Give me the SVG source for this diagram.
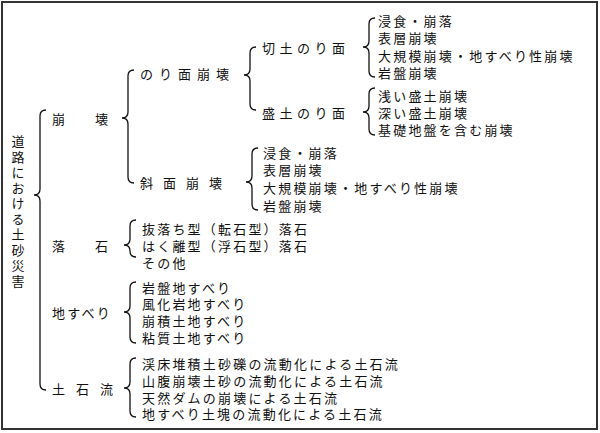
<svg xmlns="http://www.w3.org/2000/svg" width="600" height="433" viewBox="0 0 600 433">
<style>
text{font-family:"Noto Sans CJK JP","Noto Sans CJK SC",sans-serif;font-size:13px;letter-spacing:2.2px;fill:#111;dominant-baseline:central}
.b{fill:none;stroke:#111;stroke-width:1.3}
</style>
<rect x="0" y="0" width="600" height="433" fill="#fff"/>
<rect x="2" y="2" width="595" height="427" fill="none" stroke="#333" stroke-width="2"/>
<g id="connectors">
<path class="b" d="M46,110 Q40,110 40,116 L40,189 Q40,195 34,195 Q40,195 40,201 L40,384 Q40,390 46,390"/>
<path class="b" d="M134,70 Q128,70 128,76 L128,112 Q128,118 122,118 Q128,118 128,124 L128,177 Q128,183 134,183"/>
<path class="b" d="M256,47 Q250,47 250,53 L250,69 Q250,75 244,75 Q250,75 250,81 L250,104 Q250,110 256,110"/>
<path class="b" d="M375,18 Q369,18 369,24 L369,41 Q369,47 363,47 Q369,47 369,53 L369,71 Q369,77 375,77"/>
<path class="b" d="M375,88 Q369,88 369,94 L369,106 Q369,112 363,112 Q369,112 369,118 L369,129 Q369,135 375,135"/>
<path class="b" d="M258,148 Q252,148 252,154 L252,176 Q252,182 246,182 Q252,182 252,188 L252,204 Q252,210 258,210"/>
<path class="b" d="M136,220 Q130,220 130,226 L130,239 Q130,245 124,245 Q130,245 130,251 L130,251 Q130,257 136,257"/>
<path class="b" d="M136,282 Q130,282 130,288 L130,306 Q130,312 124,312 Q130,312 130,318 L130,337 Q130,343 136,343"/>
<path class="b" d="M136,358 Q130,358 130,364 L130,382 Q130,388 124,388 Q130,388 130,394 L130,411 Q130,417 136,417"/>
</g>
<g id="root"><text x="18" y="135" style="writing-mode:vertical-rl;dominant-baseline:auto;letter-spacing:2.5px;font-size:13px">道路における土砂災害</text></g>
<g id="houkai"><text x="52" y="118">崩<tspan x="95">壊</tspan></text></g>
<g id="norimen"><text x="140" y="73" style="letter-spacing:6px">のり面崩壊</text></g>
<g id="shamen"><text x="140" y="182" style="letter-spacing:10px">斜面崩壊</text></g>
<g id="kirido"><text x="262" y="47" style="letter-spacing:4.5px">切土のり面</text></g>
<g id="morido"><text x="262" y="112" style="letter-spacing:4.5px">盛土のり面</text></g>
<g id="kirido-items"><text x="378" y="20">浸食・崩落</text><text x="378" y="37">表層崩壊</text><text x="378" y="55">大規模崩壊・地すべり性崩壊</text><text x="378" y="72">岩盤崩壊</text></g>
<g id="morido-items"><text x="378" y="95">浅い盛土崩壊</text><text x="378" y="112">深い盛土崩壊</text><text x="378" y="129">基礎地盤を含む崩壊</text></g>
<g id="shamen-items"><text x="263" y="152">浸食・崩落</text><text x="263" y="169">表層崩壊</text><text x="263" y="187">大規模崩壊・地すべり性崩壊</text><text x="263" y="205">岩盤崩壊</text></g>
<g id="rakuseki"><text x="52" y="245">落<tspan x="95">石</tspan></text></g>
<g id="rakuseki-items"><text x="142" y="228">抜落ち型（転石型）落石</text><text x="142" y="245">はく離型（浮石型）落石</text><text x="142" y="262">その他</text></g>
<g id="jisuberi"><text x="52" y="312">地すべり</text></g>
<g id="jisuberi-items"><text x="142" y="287">岩盤地すべり</text><text x="142" y="303">風化岩地すべり</text><text x="142" y="320">崩積土地すべり</text><text x="142" y="337">粘質土地すべり</text></g>
<g id="dosekiryu"><text x="52" y="388" style="letter-spacing:11px">土石流</text></g>
<g id="dosekiryu-items"><text x="142" y="363">渓床堆積土砂礫の流動化による土石流</text><text x="142" y="380">山腹崩壊土砂の流動化による土石流</text><text x="142" y="397">天然ダムの崩壊による土石流</text><text x="142" y="413">地すべり土塊の流動化による土石流</text></g>
</svg>
